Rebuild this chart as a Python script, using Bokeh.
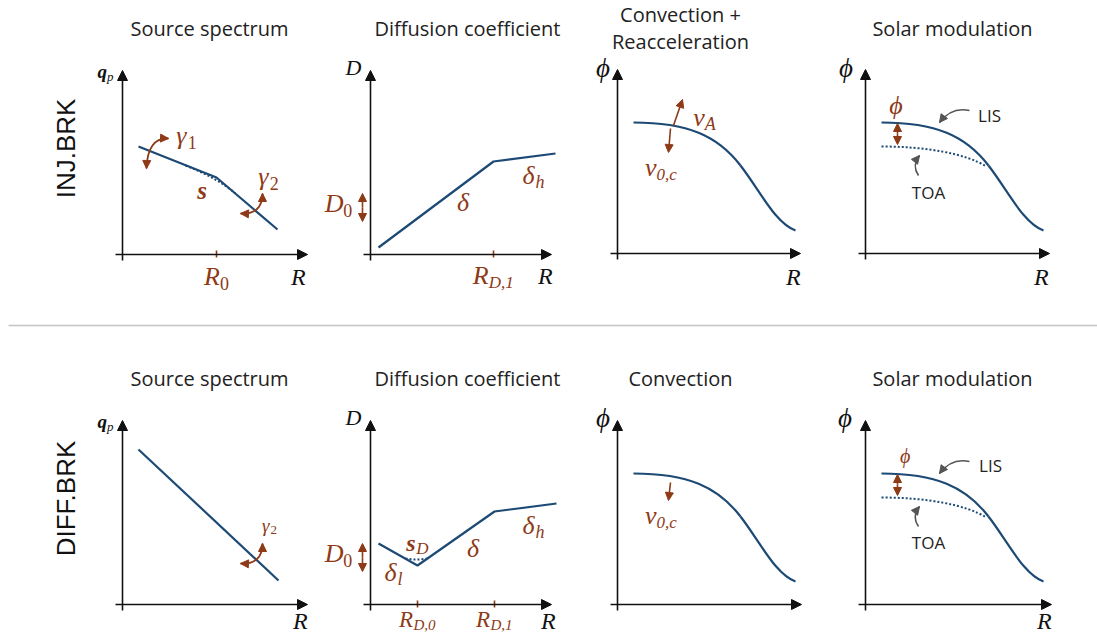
import math
from bokeh.plotting import figure
from bokeh.models import Range1d, Arrow, NormalHead
from bokeh.core.properties import value
from bokeh.embed import file_html
from bokeh.resources import INLINE

# ------------------------------------------------------------------ data
# Values, in each panel's own units: R to the right,
# the plotted quantity upward, measured from the panel's axis origin.
inj_src_R = [16, 94, 155]
inj_src_q = [108, 77, 25]
inj_src_smooth_R = [63, 94, 113]        # start, control, end of rounded break
inj_src_smooth_q = [89, 77, 61]
diff_src_R = [16, 156]
diff_src_q = [155, 24]
inj_D_R = [8, 123, 185]
inj_D_D = [7, 93, 101]
diff_D_R = [8, 47, 124, 186]
diff_D_D = [61, 39, 93, 101]
diff_D_smooth_R = [35, 46, 57]
diff_D_smooth_D = [46, 44, 46]
# flux shape: two cubic Bezier pieces (start, control 1, control 2, end)
lis_R = [[16, 70, 100, 123], [123, 143, 158, 178]]
lis_F = [[131, 131, 118, 88], [88, 62, 30, 23]]
toa_R = [16, 60, 100, 121]
toa_F = [107, 107, 100, 87]
# break / tick positions on the R axis
inj_src_ticks = [94]
inj_D_ticks = [123]
diff_D_ticks = [47, 124]

titles_top = ["Source spectrum", "Diffusion coefficient", "Convection +\nReacceleration", "Solar modulation"]
titles_bottom = ["Source spectrum", "Diffusion coefficient", "Convection", "Solar modulation"]
row_labels = ["INJ.BRK", "DIFF.BRK"]

# ------------------------------------------------------------------ layout
W, H = 1097, 635
ORIG = [(122, 254), (370, 254), (617, 253), (865, 253),
        (122, 604), (370, 604), (617, 604), (865, 604)]
AXLEN_X = [185, 181, 183, 184, 185, 181, 184, 186]
AXLEN_Y = 184
BLUE = "#1d4a74"
RED = "#8e3a17"
INK = "#111111"
GRAY = "#555555"
SERIF = "'Liberation Serif', 'DejaVu Serif', serif"
SANS = "Open Sans"
CHAR_W = {"R": 0.62, "D": 0.72, "v": 0.45, "γ": 0.45, "δ": 0.5, "s": 0.42, "q": 0.5, "ϕ": 0.55}

p = figure(width=W, height=H, x_range=Range1d(0, W), y_range=Range1d(H, 0),
           output_backend="svg", toolbar_location=None, min_border=0)
p.axis.visible = False
p.grid.visible = False
p.outline_line_color = None
p.background_fill_color = "white"


def X(i, xs):
    return [ORIG[i][0] + v for v in xs]


def Y(i, ys):
    return [ORIG[i][1] - v for v in ys]


def arrow(i, xs, ys, xe, ye, color, size=8, width=1.6, both=False, line=True):
    x0, y0 = ORIG[i]
    head = lambda: NormalHead(size=size, fill_color=color, line_color=color, line_width=1)
    p.add_layout(Arrow(end=head(), start=head() if both else None,
                       x_start=x0 + xs, y_start=y0 - ys, x_end=x0 + xe, y_end=y0 - ye,
                       line_color=color, line_width=width, line_alpha=1 if line else 0))


def curved_arrow(i, P0, C, P1, color, size=8, width=1.8, both=False):
    xs, ys = X(i, [P0[0], C[0], P1[0]]), Y(i, [P0[1], C[1], P1[1]])
    p.quadratic(x0=[xs[0]], y0=[ys[0]], cx=[xs[1]], cy=[ys[1]], x1=[xs[2]], y1=[ys[2]],
                line_color=color, line_width=width)

    def head(P, Cp):
        dx, dy = P[0] - Cp[0], P[1] - Cp[1]
        n = math.hypot(dx, dy)
        arrow(i, P[0] - dx / n, P[1] - dy / n, P[0], P[1], color, size=size, line=False)
    head(P1, C)
    if both:
        head(P0, C)


def mlabel(i, dx, dy, main, sub="", size=24, color=RED, bold=False, sub_size=None):
    x0, y0 = ORIG[i]
    cx, cy = x0 + dx, y0 - dy
    ss = sub_size or round(size * 0.68)
    mw = CHAR_W.get(main, 0.55) * size
    sw = 0.5 * ss * len(sub)
    left = cx - (mw + sw) / 2
    p.text(x=[left], y=[cy], text=[main], text_font=value(SERIF), text_font_size=f"{size}px",
           text_font_style="bold italic" if bold else "italic", text_color=color,
           text_align="left", text_baseline="middle")
    if sub:
        style = "normal" if sub.isdigit() else "italic"
        p.text(x=[left + mw], y=[cy + 0.25 * size], text=[sub], text_font=value(SERIF),
               text_font_size=f"{ss}px", text_font_style=style, text_color=color,
               text_align="left", text_baseline="middle")


def slabel(i, dx, dy, txt, size=17, color="#222222"):
    x0, y0 = ORIG[i]
    p.text(x=[x0 + dx], y=[y0 - dy], text=[txt], text_font=value(SANS),
           text_font_size=f"{size}px", text_color=color, text_align="center",
           text_baseline="middle")


# ---- axes
for i in range(8):
    arrow(i, -7, 0, AXLEN_X[i], 0, INK, size=10, width=1.6)
    arrow(i, 0, -6, 0, AXLEN_Y, INK, size=10, width=1.6)

# ---- R-axis break ticks
for i, ticks in [(0, inj_src_ticks), (1, inj_D_ticks), (5, diff_D_ticks)]:
    for t in ticks:
        p.segment(x0=X(i, [t]), y0=Y(i, [4]), x1=X(i, [t]), y1=Y(i, [-3]),
                  line_color=RED, line_width=1.6)

# ---- curves
LW = 2.2
p.line(X(0, inj_src_R), Y(0, inj_src_q), line_color=BLUE, line_width=LW)
p.quadratic(x0=X(0, inj_src_smooth_R[:1]), y0=Y(0, inj_src_smooth_q[:1]),
            cx=X(0, inj_src_smooth_R[1:2]), cy=Y(0, inj_src_smooth_q[1:2]),
            x1=X(0, inj_src_smooth_R[2:]), y1=Y(0, inj_src_smooth_q[2:]),
            line_color=BLUE, line_width=2, line_dash="2 2")
p.line(X(4, diff_src_R), Y(4, diff_src_q), line_color=BLUE, line_width=LW)
p.line(X(1, inj_D_R), Y(1, inj_D_D), line_color=BLUE, line_width=LW)
p.line(X(5, diff_D_R), Y(5, diff_D_D), line_color=BLUE, line_width=LW)
p.quadratic(x0=X(5, diff_D_smooth_R[:1]), y0=Y(5, diff_D_smooth_D[:1]),
            cx=X(5, diff_D_smooth_R[1:2]), cy=Y(5, diff_D_smooth_D[1:2]),
            x1=X(5, diff_D_smooth_R[2:]), y1=Y(5, diff_D_smooth_D[2:]),
            line_color=BLUE, line_width=2, line_dash="2 2")

for i in (2, 3, 6, 7):
    for R, F in zip(lis_R, lis_F):
        xs, ys = X(i, R), Y(i, F)
        p.bezier(x0=[xs[0]], y0=[ys[0]], cx0=[xs[1]], cy0=[ys[1]], cx1=[xs[2]], cy1=[ys[2]],
                 x1=[xs[3]], y1=[ys[3]], line_color=BLUE, line_width=LW)
for i in (3, 7):
    xs, ys = X(i, toa_R), Y(i, toa_F)
    p.bezier(x0=[xs[0]], y0=[ys[0]], cx0=[xs[1]], cy0=[ys[1]], cx1=[xs[2]], cy1=[ys[2]],
             x1=[xs[3]], y1=[ys[3]], line_color=BLUE, line_width=2, line_dash="2 2")

# ---- red parameter arrows
curved_arrow(0, (24, 86), (25, 117), (46, 116), RED, both=True)
curved_arrow(0, (140, 61), (140, 40), (118, 41), RED, both=True)
curved_arrow(4, (140, 61), (140, 40), (118, 41), RED, both=True)
for i in (1, 5):
    arrow(i, -8, 47, -8, 61, RED)
    arrow(i, -8, 47, -8, 33, RED)
arrow(2, 56, 128, 65, 154, RED)
arrow(2, 53, 125, 51, 101, RED)
arrow(6, 53, 122, 51, 104, RED)
for i in (3, 7):
    arrow(i, 32, 120, 32, 130, RED)
    arrow(i, 32, 120, 32, 109, RED)

# ---- gray pointers
for i in (3, 7):
    curved_arrow(i, (104, 143), (86, 147), (74, 131), GRAY, size=8, width=1.6)
    curved_arrow(i, (53, 78), (46, 88), (54, 98), GRAY, size=8, width=1.6)

# ---- labels
# panel 0: INJ source
mlabel(0, -17, 183, "q", "p", size=19, color=INK, bold=True, sub_size=13)
mlabel(0, 176, -22, "R", size=24, color=INK)
mlabel(0, 94, -22, "R", "0", size=26, sub_size=18)
mlabel(0, 64, 119, "γ", "1", size=26, sub_size=18)
mlabel(0, 146, 78, "γ", "2", size=26, sub_size=18)
mlabel(0, 80, 64, "s", size=25, bold=True)
# panel 1: INJ diffusion
mlabel(1, -17, 187, "D", size=22, color=INK)
mlabel(1, 175, -21, "R", size=24, color=INK)
mlabel(1, 123, -21, "R", "D,1", size=26, sub_size=17)
mlabel(1, -32, 51, "D", "0", size=26, sub_size=18)
mlabel(1, 93, 52, "δ", size=26)
mlabel(1, 163, 79, "δ", "h", size=26, sub_size=18)
# panel 2: convection + reacceleration
mlabel(2, -14, 186, "ϕ", size=27, color=INK)
mlabel(2, 176, -23, "R", size=24, color=INK)
mlabel(2, 86, 136, "v", "A", size=26, sub_size=18)
mlabel(2, 46, 86, "v", "0,c", size=26, sub_size=17)
# panel 3: solar modulation
mlabel(3, -19, 186, "ϕ", size=27, color=INK)
mlabel(3, 176, -23, "R", size=24, color=INK)
mlabel(3, 31, 148, "ϕ", size=26)
slabel(3, 124, 138, "LIS")
slabel(3, 63, 61, "TOA")
# panel 4: DIFF source
mlabel(4, -17, 183, "q", "p", size=19, color=INK, bold=True, sub_size=13)
mlabel(4, 178, -16, "R", size=24, color=INK)
mlabel(4, 147, 79, "γ", "2", size=19, sub_size=13)
# panel 5: DIFF diffusion
mlabel(5, -17, 187, "D", size=22, color=INK)
mlabel(5, 178, -16, "R", size=24, color=INK)
mlabel(5, 47, -15, "R", "D,0", size=23, sub_size=15)
mlabel(5, 124, -15, "R", "D,1", size=23, sub_size=15)
mlabel(5, -32, 51, "D", "0", size=26, sub_size=18)
mlabel(5, 45, 62, "s", "D", size=24, bold=True, sub_size=17)
mlabel(5, 25, 32, "δ", "l", size=26, sub_size=18)
mlabel(5, 103, 56, "δ", size=26)
mlabel(5, 163, 79, "δ", "h", size=26, sub_size=18)
# panel 6: convection
mlabel(6, -14, 187, "ϕ", size=27, color=INK)
mlabel(6, 46, 89, "v", "0,c", size=26, sub_size=17)
# panel 7: solar modulation
mlabel(7, -20, 187, "ϕ", size=27, color=INK)
mlabel(7, 179, -16, "R", size=24, color=INK)
mlabel(7, 40, 149, "ϕ", size=20)
slabel(7, 125, 139, "LIS")
slabel(7, 63, 62, "TOA")

# ---- titles
TITLE_X = [209, 467, 680, 952]
for k, t in enumerate(titles_top):
    lines = t.split("\n")
    ys = [28] if len(lines) == 1 else [14, 41]
    for ln, yy in zip(lines, ys):
        p.text(x=[TITLE_X[k]], y=[yy], text=[ln], text_font=value(SANS), text_font_size="20px",
               text_color="#222222", text_align="center", text_baseline="middle")
for k, t in enumerate(titles_bottom):
    p.text(x=[TITLE_X[k]], y=[378], text=[t], text_font=value(SANS), text_font_size="20px",
           text_color="#222222", text_align="center", text_baseline="middle")

for lab, yy in zip(row_labels, [148, 498]):
    p.text(x=[65], y=[yy], text=[lab], text_font=value("Liberation Sans"), text_font_size="26px",
           text_color=INK, text_align="center", text_baseline="middle", angle=math.pi / 2)

# separator
p.segment(x0=[8], y0=[325], x1=[W], y1=[325], line_color="#c4c4c4", line_width=1.5)

open("out.html", "w").write(file_html(p, INLINE))
